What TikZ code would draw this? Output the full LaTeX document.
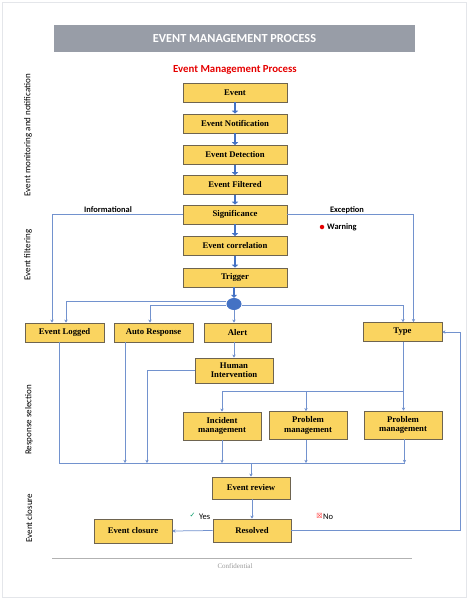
\documentclass[tikz,border=0pt]{standalone}
\usepackage{fontspec}
\setmainfont{Carlito}
\newfontfamily\boxfont{Liberation Serif}
\newfontfamily\symfont{DejaVu Sans}
\usetikzlibrary{arrows.meta,shapes.geometric}
\definecolor{boxfill}{RGB}{250,212,96}
\definecolor{boxline}{RGB}{110,100,80}
\definecolor{thinblue}{RGB}{114,146,206}
\definecolor{thickblue}{RGB}{68,114,196}
\definecolor{titlegray}{RGB}{152,157,167}
\definecolor{pageline}{RGB}{228,230,234}
\tikzset{
  box/.style={draw=boxline, fill=boxfill, line width=0.6pt, inner sep=0pt, align=center,
    font=\boxfont\bfseries\fontsize{8.7}{9.6}\selectfont, minimum height=19pt},
  link/.style={draw=thinblue, line width=0.75pt, -{Stealth[length=3.2pt,width=3.4pt]}},
  bus/.style={draw=thinblue, line width=0.75pt},
  big/.style={draw=thickblue, line width=2.6pt, -{Triangle[length=3pt,width=6pt]}},
  side/.style={rotate=90, font=\fontsize{9}{10}\selectfont},
  lbl/.style={font=\bfseries\fontsize{8.4}{9}\selectfont, inner sep=0pt}
}
\begin{document}
\begin{tikzpicture}[x=1pt,y=-1pt]
\useasboundingbox (0,0) rectangle (469,600);
\draw[pageline, line width=0.6pt] (2.5,2.5) rectangle (466.5,597.5);
% title
\node[fill=titlegray, minimum width=361pt, minimum height=27pt, inner sep=0pt,
  text=white, font=\bfseries\fontsize{12.3}{14}\selectfont] (title) at (234.5,38.5) {EVENT MANAGEMENT PROCESS};
\node[text=red!90!black, font=\bfseries\fontsize{10.8}{12}\selectfont] (sub) at (235,70) {Event Management Process};
% main column
\node[box, minimum width=104pt] (ev) at (235,92.5) {Event};
\node[box, minimum width=104pt] (en) at (235,123.5) {Event Notification};
\node[box, minimum width=104pt] (ed) at (235,155) {Event Detection};
\node[box, minimum width=104pt] (ef) at (235,185) {Event Filtered};
\node[box, minimum width=104pt] (sg) at (235,214.5) {Significance};
\node[box, minimum width=104pt] (ec) at (235,246) {Event correlation};
\node[box, minimum width=104pt] (tr) at (235,277.5) {Trigger};
\node[ellipse, fill=thickblue, minimum width=15pt, minimum height=12pt, inner sep=0pt] (c) at (234,304) {};
\draw[big] (ev) -- (en);
\draw[big] (en) -- (ed);
\draw[big] (ed) -- (ef);
\draw[big] (ef) -- (sg);
\draw[big] (sg) -- (ec);
\draw[big] (ec) -- (tr);
\draw[big] (tr.south -| c.north) -- (c.north);
% row of responses
\node[box, minimum width=79pt] (el) at (64.5,332.5) {Event Logged};
\node[box, minimum width=79pt] (ar) at (153.5,332.5) {Auto Response};
\node[box, minimum width=67pt] (al) at (237.5,332.5) {Alert};
\node[box, minimum width=79pt] (ty) at (402.5,332) {Type};
\node[box, minimum width=78pt, minimum height=25pt] (hi) at (234,370.5) {Human\\[-0.5pt]Intervention};
\node[box, minimum width=78pt, minimum height=28pt] (im) at (222,426) {Incident\\management};
\node[box, minimum width=78pt, minimum height=28pt] (pa) at (308,425.5) {Problem\\management};
\node[box, minimum width=78pt, minimum height=28pt] (pb) at (403,425) {Problem\\management};
\node[box, minimum width=78pt, minimum height=22pt] (er) at (251,488) {Event review};
\node[box, minimum width=78pt, minimum height=23pt] (rs) at (252,530.5) {Resolved};
\node[box, minimum width=78pt, minimum height=24pt] (cl) at (133,531) {Event closure};
% side labels
\node[side] (s1) at (28,135) {Event monitoring and notification};
\node[side] (s2) at (28,255) {Event filtering};
\node[side] (s3) at (29,420) {Response selection};
\node[side] (s4) at (29,518) {Event closure};
% significance branches
\draw[link] (sg.west) -| ([xshift=-12.5pt]el.north);
\node[lbl] (inf) at (108,210) {Informational};
\draw[link] (sg.east) -| ([xshift=11pt]ty.north);
\node[lbl] (exc) at (347,210) {Exception};
\node[circle, fill=red!90!black, inner sep=0pt, minimum size=4.5pt] (wd) at (322,227) {};
\node[lbl, anchor=west] (wr) at (327,227.5) {Warning};
% circle branches
\draw[link] ([yshift=2.5pt]c.west) -| ([xshift=1.5pt]el.north);
\draw[link] ([yshift=-1.5pt]c.west) -| ([xshift=-3.5pt]ar.north);
\draw[link] (c.south) -- (c.south |- al.north);
\draw[link] ([yshift=-1pt]c.east) -| ([xshift=0.5pt]ty.north);
\draw[link] (hi.north |- al.south) -- (hi.north);
% type branches
\coordinate (j) at (403.5,391);
\draw[bus] ([xshift=1pt]ty.south) -- (j);
\draw[link] (j) -- (j |- pb.north);
\draw[link] (j) -| (im.north);
\draw[link] ([xshift=-2pt]pa.north |- j) -- ([xshift=-2pt]pa.north);
% bus
\coordinate (bl) at (59,463);
\coordinate (br) at (405,463);
\draw[bus] ([xshift=-5.5pt]el.south) -- (bl) -- (br);
\draw[link] ([xshift=-28.5pt]ar.south) -- ([xshift=-28.5pt]ar.south |- bl);
\coordinate (hb) at (147,463);
\draw[link] (hi.west) -| (hb);
\draw[link] (im.south) -- (im.south |- bl);
\draw[link] ([xshift=-2pt]pa.south) -- ([xshift=-2pt]pa.south |- bl);
\draw[link] ([xshift=1.5pt]pb.south) -- ([xshift=1.5pt]pb.south |- bl);
\draw[link] (er.north |- bl) -- (er.north);
% closure
\draw[link] (er.south -| rs.north) -- (rs.north);
\draw[link] (rs.west) -- (cl.east);
\coordinate (lp) at (460,400);
\draw[link] (rs.east) -| (lp |- ty.east) -- (ty.east);
\node[font=\symfont\fontsize{7}{8}\selectfont, text=teal!80!green, inner sep=0pt] (ck) at (192.5,515) {✓};
\node[font=\fontsize{8.5}{9}\selectfont, inner sep=0pt, anchor=west] (yes) at (199,516.5) {Yes};
\node[font=\symfont\fontsize{7}{8}\selectfont, text=red!85!white, inner sep=0pt] (xb) at (319.5,516) {☒};
\node[font=\fontsize{8.5}{9}\selectfont, inner sep=0pt, anchor=west] (no) at (323,516.5) {No};
% footer
\draw[gray!60, line width=0.6pt] (52,558) -- (412,558);
\node[font=\boxfont\fontsize{7}{8}\selectfont, text=gray!80, inner sep=0pt] (cf) at (235,566) {Confidential};
\end{tikzpicture}
\end{document}
